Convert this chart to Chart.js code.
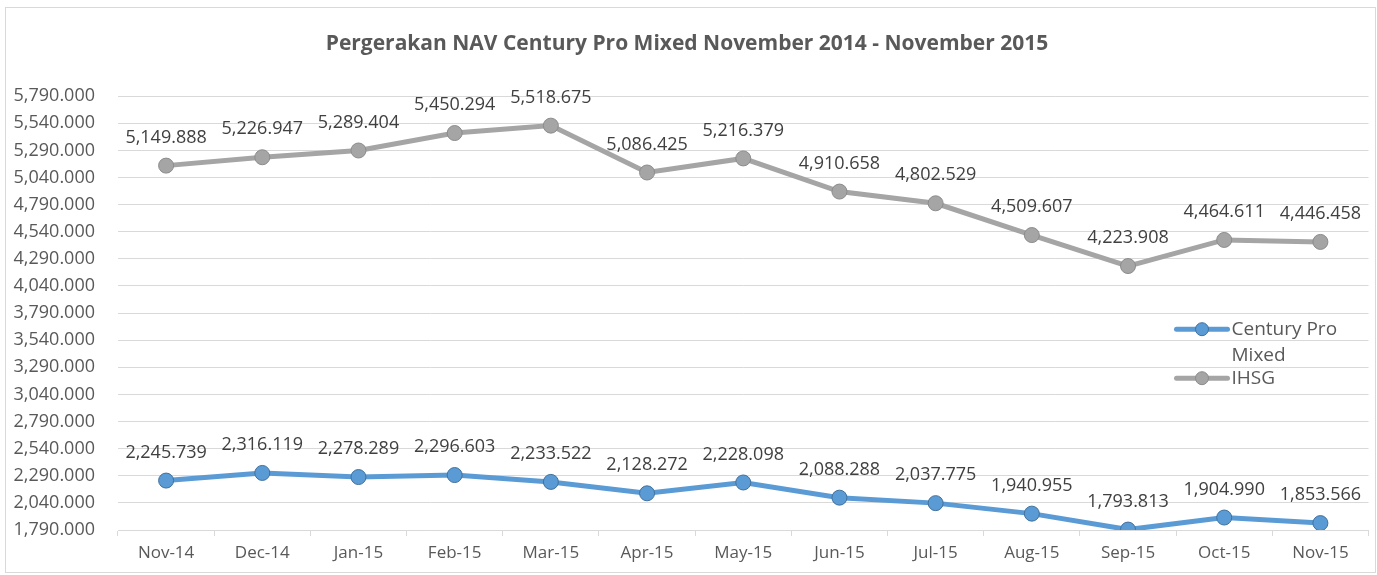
<!DOCTYPE html>
<html>
<head>
<meta charset="utf-8">
<script src="https://cdn.jsdelivr.net/npm/chart.js@4/dist/chart.umd.min.js"></script>
<style>
  html, body { margin: 0; padding: 0; background: #fff; }
  #wrap { width: 1377px; height: 575px; position: relative; }
</style>
</head>
<body>
<div id="wrap"><canvas id="c" width="1377" height="575"></canvas></div>
<script>
const categories = ['Nov-14','Dec-14','Jan-15','Feb-15','Mar-15','Apr-15','May-15','Jun-15','Jul-15','Aug-15','Sep-15','Oct-15','Nov-15'];
const centuryProMixed = [2245.739, 2316.119, 2278.289, 2296.603, 2233.522, 2128.272, 2228.098, 2088.288, 2037.775, 1940.955, 1793.813, 1904.990, 1853.566];
const ihsg = [5149.888, 5226.947, 5289.404, 5450.294, 5518.675, 5086.425, 5216.379, 4910.658, 4802.529, 4509.607, 4223.908, 4464.611, 4446.458];
const seriesNames = ['Century Pro Mixed', 'IHSG'];
const legendLines = [['Century Pro', 'Mixed'], ['IHSG']];
const titleText = 'Pergerakan NAV Century Pro Mixed November 2014 - November 2015';
const yMin = 1790, yMax = 5790, yStep = 250;

const FONT = "'Open Sans', 'Liberation Sans', sans-serif";
const fmt = v => v.toLocaleString('en-US', { minimumFractionDigits: 3, maximumFractionDigits: 3 });

const bgBorder = {
  id: 'bgBorder',
  beforeDraw(chart) {
    const ctx = chart.ctx;
    ctx.save();
    ctx.fillStyle = '#fff';
    ctx.fillRect(0, 0, chart.width, chart.height);
    ctx.strokeStyle = '#D9D9D9';
    ctx.lineWidth = 1;
    ctx.strokeRect(5.5, 7.5, chart.width - 7, chart.height - 10);
    ctx.restore();
  }
};

const dataLabels = {
  id: 'dataLabels',
  afterDatasetsDraw(chart) {
    const ctx = chart.ctx;
    ctx.save();
    ctx.font = '18px ' + FONT;
    ctx.fillStyle = '#404040';
    ctx.textAlign = 'center';
    ctx.textBaseline = 'middle';
    chart.data.datasets.forEach((ds, i) => {
      const meta = chart.getDatasetMeta(i);
      meta.data.forEach((pt, j) => {
        ctx.fillText(fmt(ds.data[j]), pt.x, pt.y - 28);
      });
    });
    ctx.restore();
  }
};

const customLegend = {
  id: 'customLegend',
  afterDraw(chart) {
    const ctx = chart.ctx;
    const ca = chart.chartArea;
    const x0 = ca.right - 192;
    const rows = [ca.top + 233, ca.top + 282];
    ctx.save();
    ctx.font = '19px ' + FONT;
    ctx.textBaseline = 'middle';
    ctx.textAlign = 'left';
    chart.data.datasets.forEach((ds, i) => {
      const y = rows[i];
      ctx.strokeStyle = ds.borderColor;
      ctx.lineWidth = 5;
      ctx.lineCap = 'round';
      ctx.beginPath();
      ctx.moveTo(x0, y);
      ctx.lineTo(x0 + 51, y);
      ctx.stroke();
      ctx.beginPath();
      ctx.arc(x0 + 25.5, y, 6.5, 0, Math.PI * 2);
      ctx.fillStyle = ds.pointBackgroundColor;
      ctx.fill();
      ctx.lineWidth = 1;
      ctx.strokeStyle = ds.pointBorderColor;
      ctx.stroke();
      ctx.fillStyle = '#595959';
      legendLines[i].forEach((t, k) => ctx.fillText(t, x0 + 55, y + k * 26));
    });
    ctx.restore();
  }
};

new Chart(document.getElementById('c'), {
  type: 'line',
  data: {
    labels: categories,
    datasets: [
      {
        label: seriesNames[0],
        data: centuryProMixed,
        borderColor: '#5B9BD5',
        backgroundColor: '#5B9BD5',
        pointBackgroundColor: '#5B9BD5',
        pointBorderColor: '#41719C',
        borderWidth: 5,
        pointRadius: 7.5,
        pointBorderWidth: 1,
        tension: 0
      },
      {
        label: seriesNames[1],
        data: ihsg,
        borderColor: '#A5A5A5',
        backgroundColor: '#A5A5A5',
        pointBackgroundColor: '#A5A5A5',
        pointBorderColor: '#8C8C8C',
        borderWidth: 5,
        pointRadius: 7.5,
        pointBorderWidth: 1,
        tension: 0
      }
    ]
  },
  options: {
    responsive: false,
    animation: false,
    devicePixelRatio: 1,
    layout: { padding: { top: 8, right: 3, left: 0, bottom: 0 } },
    plugins: {
      legend: { display: false },
      tooltip: { enabled: false },
      title: {
        display: true,
        text: titleText,
        color: '#595959',
        font: { family: FONT, size: 21, weight: 'bold' },
        padding: { top: 23, bottom: 40 }
      }
    },
    scales: {
      x: {
        offset: true,
        grid: {
          offset: true,
          drawOnChartArea: false,
          drawTicks: true,
          tickLength: 6,
          color: '#D9D9D9'
        },
        border: { display: true, color: '#D9D9D9', width: 1 },
        ticks: {
          color: '#595959',
          font: { family: FONT, size: 17 },
          padding: 7,
          maxRotation: 0,
          autoSkip: false
        },
        afterFit(scale) { scale.height = 45; }
      },
      y: {
        min: yMin,
        max: yMax,
        grid: { color: '#D9D9D9', drawTicks: false, lineWidth: 1 },
        border: { display: false },
        ticks: {
          stepSize: yStep,
          color: '#595959',
          font: { family: FONT, size: 18 },
          padding: 23,
          callback: v => fmt(v)
        },
        afterFit(scale) { scale.width = 118; }
      }
    }
  },
  plugins: [bgBorder, dataLabels, customLegend]
});
</script>
</body>
</html>
